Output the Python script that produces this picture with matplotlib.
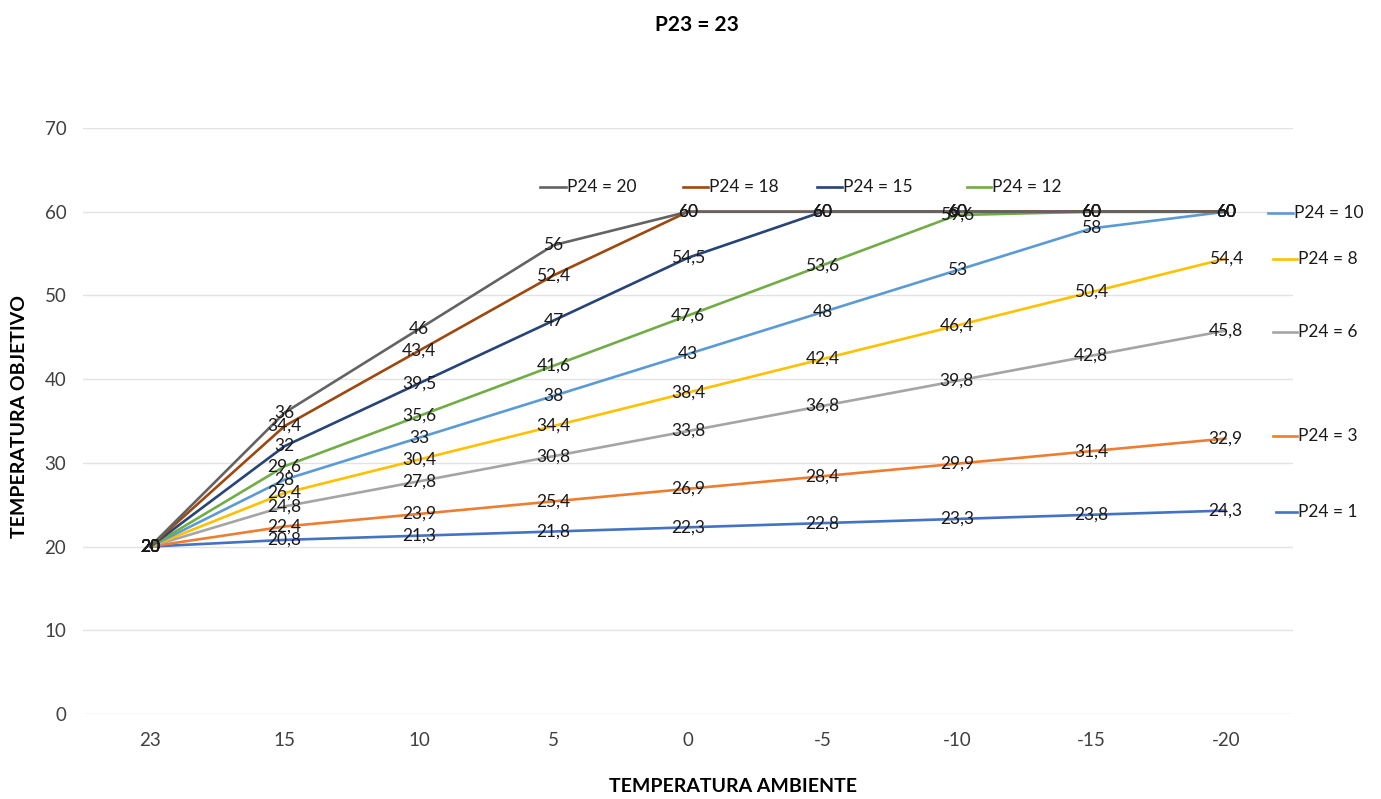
import matplotlib
matplotlib.use("Agg")
import matplotlib.pyplot as plt
from matplotlib.lines import Line2D
import numpy as np

# ambient temperature categories (x axis)
temp_ambiente = ["23", "15", "10", "5", "0", "-5", "-10", "-15", "-20"]

# target temperature for each P24 setting
p24_1 = [20, 20.8, 21.3, 21.8, 22.3, 22.8, 23.3, 23.8, 24.3]
p24_3 = [20, 22.4, 23.9, 25.4, 26.9, 28.4, 29.9, 31.4, 32.9]
p24_6 = [20, 24.8, 27.8, 30.8, 33.8, 36.8, 39.8, 42.8, 45.8]
p24_8 = [20, 26.4, 30.4, 34.4, 38.4, 42.4, 46.4, 50.4, 54.4]
p24_10 = [20, 28, 33, 38, 43, 48, 53, 58, 60]
p24_12 = [20, 29.6, 35.6, 41.6, 47.6, 53.6, 59.6, 60, 60]
p24_15 = [20, 32, 39.5, 47, 54.5, 60, 60, 60, 60]
p24_18 = [20, 34.4, 43.4, 52.4, 60, 60, 60, 60, 60]
p24_20 = [20, 36, 46, 56, 60, 60, 60, 60, 60]

series = [
    ("P24 = 1", p24_1, "#4472C4"),
    ("P24 = 3", p24_3, "#ED7D31"),
    ("P24 = 6", p24_6, "#A5A5A5"),
    ("P24 = 8", p24_8, "#FFC000"),
    ("P24 = 10", p24_10, "#5B9BD5"),
    ("P24 = 12", p24_12, "#70AD47"),
    ("P24 = 15", p24_15, "#264478"),
    ("P24 = 18", p24_18, "#9E480E"),
    ("P24 = 20", p24_20, "#636363"),
]

# where each legend entry sits (pixel x of line start, line end, y)
legend_pos = {
    "P24 = 20": (540, 566, 187),
    "P24 = 18": (683, 708, 187),
    "P24 = 15": (817, 842, 187),
    "P24 = 12": (967, 991, 187),
    "P24 = 10": (1268, 1293, 213),
    "P24 = 8": (1273, 1297, 259),
    "P24 = 6": (1273, 1297, 332),
    "P24 = 3": (1273, 1297, 436),
    "P24 = 1": (1276, 1297, 512),
}

plt.rcParams['font.family'] = ['Lato', 'DejaVu Sans']

W, H = 1381, 799
fig = plt.figure(figsize=(W / 100, H / 100), dpi=100)
ax = fig.add_axes([83 / W, 1 - 714 / H, (1293 - 83) / W, (714 - 128) / H])

x = np.arange(len(temp_ambiente))
for name, vals, color in series:
    ax.plot(x, vals, color=color, lw=1.9, zorder=3, solid_capstyle='round')

# data labels on top of every line
for name, vals, color in series:
    for xi, v in zip(x, vals):
        txt = ("%g" % v).replace(".", ",")
        ax.text(xi, v, txt, ha='center', va='center', fontsize=12.5,
                color='#1a1a1a', zorder=5)

ax.set_xlim(-0.5, len(temp_ambiente) - 0.5)
ax.set_ylim(0, 70)
ax.set_yticks(np.arange(0, 71, 10))
ax.set_xticks(x)
ax.set_xticklabels(temp_ambiente)
ax.tick_params(axis='both', length=0, labelsize=13.5, labelcolor='#404040')
ax.tick_params(axis='x', pad=13)
ax.tick_params(axis='y', pad=12)
ax.grid(axis='y', color='#E3E3E3', lw=1)
ax.set_axisbelow(True)
for s in ax.spines.values():
    s.set_visible(False)

# legend drawn next to the lines
for name, vals, color in series:
    x0, x1, y = legend_pos[name]
    fig.add_artist(Line2D([x0 / W, x1 / W], [1 - y / H, 1 - y / H],
                          color=color, lw=1.9))
    fig.text((x1 + 1) / W, 1 - y / H, name, ha='left', va='center',
             fontsize=12.5, color='#1a1a1a')

fig.text(697 / W, 1 - 25 / H, "P23 = 23", ha='center', va='center',
         fontsize=15, fontweight='bold', color='black')
fig.text(733 / W, 1 - 787 / H, "TEMPERATURA AMBIENTE", ha='center',
         va='center', fontsize=14, fontweight='bold', color='black')
fig.text(20 / W, 1 - 416 / H, "TEMPERATURA OBJETIVO", ha='center',
         va='center', rotation=90, fontsize=14, fontweight='bold',
         color='black')

fig.savefig("out.png", dpi=100, facecolor='white')
